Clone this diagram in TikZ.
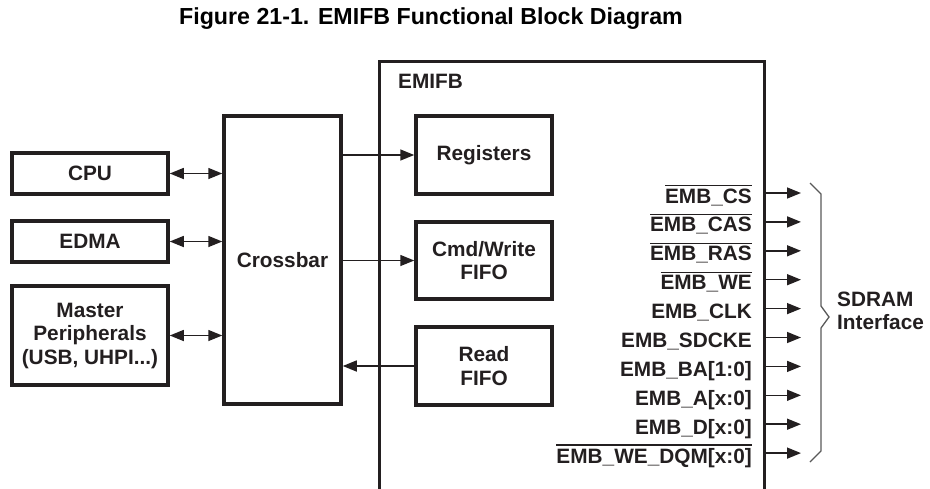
\documentclass[tikz,border=0pt]{standalone}
\usepackage{fontspec}
\setmainfont{Liberation Sans}
\usetikzlibrary{arrows.meta}
\definecolor{ink}{HTML}{231F20}

% overlined (active low) signal name
\newcommand{\ovl}[1]{\vbox{\hrule height 1.3pt \kern 2.4pt \hbox{#1}}}

\begin{document}
\begin{tikzpicture}[
    x=1pt, y=-1pt,
    blk/.style={draw=ink, text=ink, line width=3.5pt, inner sep=0pt, align=center,
      font=\bfseries\fontsize{20.8}{23.5}\selectfont},
    lbl/.style={text=ink, inner sep=0pt, font=\bfseries\fontsize{20.8}{23.5}\selectfont},
    link/.style={draw=ink, line width=1.5pt, -{Triangle[length=14pt,width=11pt]}},
    bilink/.style={draw=ink, line width=1.5pt,
      {Triangle[length=14pt,width=11pt]}-{Triangle[length=14pt,width=11pt]}},
  ]
    \clip (0,0) rectangle (930,488);

    % title
    \node[text=black, font=\bfseries\fontsize{23.2}{27}\selectfont] (title) at (431,19)
      {Figure 21-1. EMIFB Functional Block Diagram};

    % EMIFB (runs off the bottom)
    \node[blk, minimum width=385pt, minimum height=470pt, anchor=north west] (emifb) at (377.5,59.5) {};
    \node[lbl, anchor=west] (emifblbl) at (398,81) {EMIFB};

    % masters
    \node[blk, minimum width=156pt, minimum height=41pt] (cpu) at (90,173.5) {CPU};
    \node[blk, minimum width=156pt, minimum height=41pt] (edma) at (90,241.5) {EDMA};
    \node[blk, minimum width=156pt, minimum height=99pt] (master) at (90,335.5)
      {Master\\Peripherals\\(USB, UHPI...)};

    % crossbar
    \node[blk, minimum width=117pt, minimum height=288pt] (xbar) at (282.5,260) {Crossbar};

    % inside EMIFB
    \node[blk, minimum width=136pt, minimum height=78pt] (regs) at (484,155) {Registers};
    \node[blk, minimum width=136pt, minimum height=77pt] (cmdfifo) at (484,260.5) {Cmd/Write\\FIFO};
    \node[blk, minimum width=136pt, minimum height=78pt] (rdfifo) at (484,366) {Read\\FIFO};

    % connections
    \draw[bilink] (cpu.east) -- (cpu.east -| xbar.west);
    \draw[bilink] (edma.east) -- (edma.east -| xbar.west);
    \draw[bilink] (master.east) -- (master.east -| xbar.west);
    \draw[link] (regs.west -| xbar.east) -- (regs.west);
    \draw[link] (cmdfifo.west -| xbar.east) -- (cmdfifo.west);
    \draw[link] (rdfifo.west) -- (rdfifo.west -| xbar.east);

    % SDRAM signals
    \foreach \i/\sig in {0/\ovl{EMB\_CS}, 1/\ovl{EMB\_CAS}, 2/\ovl{EMB\_RAS}, 3/\ovl{EMB\_WE},
        4/EMB\_CLK, 5/EMB\_SDCKE, 6/EMB\_BA[1:0], 7/EMB\_A[x:0], 8/EMB\_D[x:0],
        9/\ovl{EMB\_WE\_DQM[x:0]}} {
      \coordinate (tip\i) at (801,193+\i*28.9);
      \node[lbl, anchor=base east] (sig\i) at (752,203+\i*28.9) {\sig};
      \draw[link] (tip\i -| emifb.east) -- (tip\i);
    }

    % brace
    \draw[black!65, line width=1.3pt] (810,183) -- (821,194) -- (821,306) -- (829,317)
      -- (821,328) -- (821,451) -- (810,462);
    \node[lbl, anchor=west, align=left] (sdram) at (837,311) {SDRAM\\Interface};
  \end{tikzpicture}
\end{document}
